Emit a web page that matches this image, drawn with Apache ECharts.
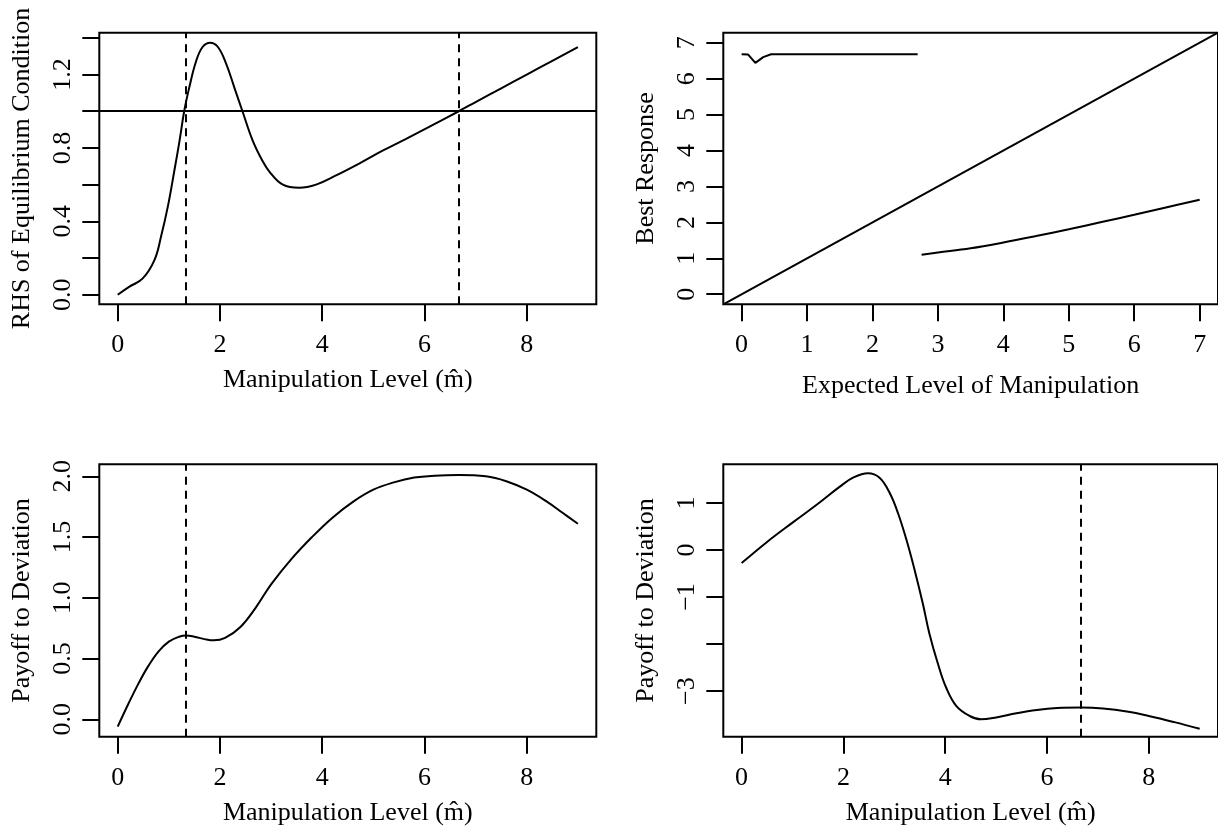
<!DOCTYPE html>
<html>
<head>
<meta charset="utf-8">
<script src="https://cdn.jsdelivr.net/npm/echarts@6/dist/echarts.min.js"></script>
<style>
  html, body { margin: 0; padding: 0; background: #fff; }
  #chart { width: 1218px; height: 831px; }
</style>
</head>
<body>
<div id="chart"></div>
<script>
// panel 1: RHS of equilibrium condition
var rhsCurve = [
  [0, 0], [0.23, 0.044], [0.49, 0.089], [0.72, 0.19], [0.85, 0.32], [0.98, 0.48],
  [1.11, 0.68], [1.21, 0.84], [1.30, 1.0], [1.40, 1.13], [1.53, 1.27], [1.66, 1.35],
  [1.81, 1.373], [1.96, 1.35], [2.12, 1.26], [2.28, 1.13], [2.44, 1.0], [2.64, 0.84],
  [2.83, 0.73], [2.97, 0.67], [3.23, 0.60], [3.55, 0.583], [3.88, 0.60], [4.27, 0.65],
  [4.73, 0.716], [5.18, 0.785], [5.64, 0.85], [6.09, 0.915], [6.67, 1.0], [7.0, 1.05],
  [7.5, 1.125], [8.0, 1.20], [8.5, 1.275], [9.0, 1.35]
];
var equilibria = [1.33, 6.67];
var rhsLevel = 1;

// panel 2: best response
var brUpper = [[0, 6.68], [0.1, 6.67], [0.21, 6.44], [0.33, 6.6], [0.45, 6.68], [1, 6.68], [2, 6.68], [2.69, 6.68]];
var brLower = [[2.75, 1.10], [3, 1.16], [3.5, 1.28], [4, 1.44], [4.5, 1.62], [5, 1.81], [5.5, 2.01], [6, 2.21], [6.5, 2.42], [7, 2.63]];

// panel 3: payoff to deviation (low equilibrium)
var payoffLow = [
  [0, -0.06], [0.2, 0.12], [0.4, 0.29], [0.6, 0.44], [0.8, 0.56], [1.0, 0.64], [1.2, 0.68],
  [1.34, 0.69], [1.5, 0.68], [1.7, 0.66], [1.88, 0.65], [2.1, 0.67], [2.4, 0.76], [2.7, 0.92],
  [3.0, 1.11], [3.4, 1.32], [3.8, 1.50], [4.2, 1.66], [4.6, 1.79], [5.0, 1.89], [5.4, 1.95],
  [5.8, 1.99], [6.2, 2.005], [6.67, 2.01], [7.2, 2.0], [7.6, 1.96], [8.0, 1.89], [8.4, 1.79],
  [8.7, 1.70], [9.0, 1.61]
];

// panel 4: payoff to deviation (high equilibrium)
var payoffHigh = [
  [0, -0.28], [0.5, 0.17], [1.0, 0.58], [1.5, 0.98], [1.93, 1.345], [2.19, 1.535], [2.48, 1.63],
  [2.71, 1.535], [2.91, 1.21], [3.07, 0.79], [3.24, 0.21], [3.40, -0.43], [3.56, -1.14],
  [3.69, -1.78], [3.86, -2.43], [4.02, -2.93], [4.22, -3.32], [4.48, -3.53], [4.7, -3.6],
  [5.0, -3.56], [5.4, -3.47], [5.8, -3.40], [6.2, -3.36], [6.67, -3.35], [7.1, -3.37],
  [7.6, -3.44], [8.0, -3.53], [8.5, -3.66], [9.0, -3.80]
];

// axis extents and ticks
var xRange = [-0.36, 9.36];
var brRange = [-0.28, 7.28];
var y1Range = [-0.052, 1.428];
var y3Range = [-0.143, 2.099];
var y4Range = [-3.97, 1.82];
var xTicks = [0, 2, 4, 6, 8];
var brTicks = [0, 1, 2, 3, 4, 5, 6, 7];
var y1Ticks = [0, 0.2, 0.4, 0.6, 0.8, 1.0, 1.2, 1.4];
var y1Labels = [0, 0.4, 0.8, 1.2];
var y3Ticks = [0, 0.5, 1.0, 1.5, 2.0];
var y4Ticks = [-3, -2, -1, 0, 1];
var y4Labels = [-3, -1, 0, 1];

var mLabel = 'Manipulation Level (m\u0302)';
var font = 'Liberation Serif';
var fs = 26;

function xAxis(grid, range, ticks, name, gap) {
  return {
    type: 'value', gridIndex: grid, min: range[0], max: range[1],
    name: name, nameLocation: 'middle', nameGap: gap,
    nameTextStyle: { fontFamily: font, fontSize: fs, color: '#000' },
    axisLine: { show: false, onZero: false },
    axisTick: { show: true, customValues: ticks, length: 17, lineStyle: { color: '#000', width: 2 } },
    axisLabel: { customValues: ticks, margin: 28, fontFamily: font, fontSize: fs, color: '#000',
      formatter: function (v) { return String(v); } },
    splitLine: { show: false }
  };
}

function yAxis(grid, range, ticks, labels, name, fmt) {
  return {
    type: 'value', gridIndex: grid, min: range[0], max: range[1],
    name: name, nameLocation: 'middle', nameGap: 64, nameRotate: 90,
    nameTextStyle: { fontFamily: font, fontSize: fs, color: '#000' },
    axisLine: { show: false, onZero: false },
    axisTick: { show: true, customValues: ticks, length: 17, lineStyle: { color: '#000', width: 2 } },
    axisLabel: { customValues: labels, rotate: 90, margin: 23, fontFamily: font, fontSize: fs, color: '#000',
      formatter: fmt },
    splitLine: { show: false }
  };
}

function oneDec(v) { return v.toFixed(1); }
function intLab(v) { return String(Math.round(v)).replace('-', '\u2212'); }

function curve(xi, data, marks) {
  var s = {
    type: 'line', xAxisIndex: xi, yAxisIndex: xi, data: data,
    showSymbol: false, smooth: 0.4, clip: true, silent: true,
    lineStyle: { color: '#000', width: 2 }
  };
  if (marks) {
    s.markLine = {
      symbol: 'none', silent: true, label: { show: false }, animation: false,
      lineStyle: { color: '#000', width: 2, type: [8, 6] },
      data: marks
    };
  }
  return s;
}

var gridBox = { show: true, borderColor: '#000', borderWidth: 2, backgroundColor: 'transparent' };

var option = {
  animation: false,
  backgroundColor: '#fff',
  textStyle: { fontFamily: font, color: '#000' },
  grid: [
    Object.assign({ left: 99.3, top: 32.7, width: 497, height: 271.6 }, gridBox),
    Object.assign({ left: 723.3, top: 32.7, width: 496, height: 271.6 }, gridBox),
    Object.assign({ left: 99.3, top: 464.3, width: 497, height: 272.4 }, gridBox),
    Object.assign({ left: 723.3, top: 464.3, width: 496, height: 272.4 }, gridBox)
  ],
  xAxis: [
    xAxis(0, xRange, xTicks, mLabel, 63),
    xAxis(1, brRange, brTicks, 'Expected Level of Manipulation', 69),
    xAxis(2, xRange, xTicks, mLabel, 63),
    xAxis(3, xRange, xTicks, mLabel, 63)
  ],
  yAxis: [
    yAxis(0, y1Range, y1Ticks, y1Labels, 'RHS of Equilibrium Condition', oneDec),
    yAxis(1, brRange, brTicks, brTicks, 'Best Response', intLab),
    yAxis(2, y3Range, y3Ticks, y3Ticks, 'Payoff to Deviation', oneDec),
    yAxis(3, y4Range, y4Ticks, y4Labels, 'Payoff to Deviation', intLab)
  ],
  series: [
    curve(0, rhsCurve, [
      { xAxis: equilibria[0] }, { xAxis: equilibria[1] },
      { yAxis: rhsLevel, lineStyle: { type: 'solid' } }
    ]),
    Object.assign(curve(1, brUpper), { smooth: false }),
    curve(1, brLower),
    Object.assign(curve(1, [[brRange[0], brRange[0]], [brRange[1], brRange[1]]]), { smooth: false }),
    curve(2, payoffLow, [{ xAxis: equilibria[0] }]),
    curve(3, payoffHigh, [{ xAxis: equilibria[1] }])
  ]
};

var chart = echarts.init(document.getElementById('chart'), null, { renderer: 'canvas' });
chart.setOption(option);
</script>
</body>
</html>
